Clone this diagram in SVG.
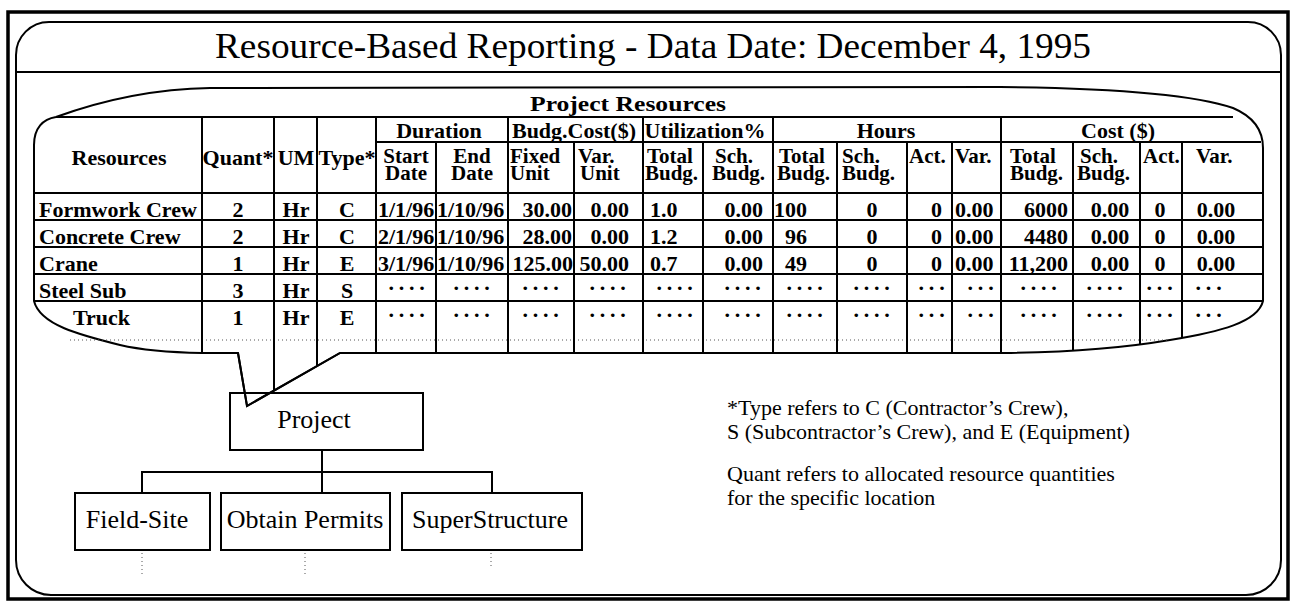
<svg xmlns="http://www.w3.org/2000/svg" width="1292" height="605" viewBox="0 0 1292 605">
<style>
.t{font-family:"Liberation Serif","Times New Roman",serif;fill:#000}
.b{font-weight:bold;font-size:22px}
.s{font-weight:bold;font-size:21px}
.c{text-anchor:middle}
.r{text-anchor:end}
.ln{stroke:#000;stroke-width:2;fill:none}
.dl{stroke:#555;stroke-width:1;stroke-dasharray:1 3;fill:none}
.n{font-size:26px}
.lg{font-size:22px}
.dots{letter-spacing:4.8px}
</style>
<rect x="0" y="0" width="1292" height="605" fill="#fff"/>
<g id="frame">
<rect x="8" y="12" width="1280" height="587" fill="none" stroke="#000" stroke-width="3.5"/>
<path class="ln" d="M16,55 A33,33 0 0 1 49,22 L1248,22 A33,33 0 0 1 1281,55 L1281,560 A35,35 0 0 1 1246,595 L51,595 A35,35 0 0 1 16,560 Z"/>
<line class="ln" x1="16" y1="72" x2="1281" y2="72"/>
</g>
<g id="title">
<text class="t c" x="653" y="58" font-size="36" textLength="876" lengthAdjust="spacingAndGlyphs">Resource-Based Reporting - Data Date: December 4, 1995</text>
</g>
<g id="resource-table">
<path class="ln" d="M34,301 L34,145 C34,128 43,119 56,117 C100,101 150,89 210,88 L1000,87 C1100,88 1190,93 1233,108 C1252,116 1263,128 1263,148 L1263,301 C1258,322 1220,332 1170,340 Q1100,352 1003,353 L340,353 L247,406 L238,353 L202,353 Q150,352 120,345 C80,335 40,325 34,301 Z"/>
<line class="ln" x1="56" y1="117" x2="1233" y2="117"/>
<line class="ln" x1="376" y1="142" x2="1261" y2="142"/>
<line class="ln" x1="34" y1="193" x2="1263" y2="193"/>
<line class="ln" x1="34" y1="220" x2="1263" y2="220"/>
<line class="ln" x1="34" y1="247" x2="1263" y2="247"/>
<line class="ln" x1="34" y1="274" x2="1263" y2="274"/>
<line class="ln" x1="34" y1="301" x2="1263" y2="301"/>
<line class="dl" x1="70" y1="340" x2="1170" y2="340"/>
<line class="ln" x1="202" y1="117" x2="202" y2="353"/>
<line class="ln" x1="274" y1="117" x2="274" y2="391"/>
<line class="ln" x1="317" y1="117" x2="317" y2="366"/>
<line class="ln" x1="376" y1="117" x2="376" y2="353"/>
<line class="ln" x1="436" y1="142" x2="436" y2="353"/>
<line class="ln" x1="508" y1="117" x2="508" y2="353"/>
<line class="ln" x1="574" y1="142" x2="574" y2="353"/>
<line class="ln" x1="643" y1="117" x2="643" y2="353"/>
<line class="ln" x1="703" y1="142" x2="703" y2="353"/>
<line class="ln" x1="773" y1="117" x2="773" y2="353"/>
<line class="ln" x1="837" y1="142" x2="837" y2="353"/>
<line class="ln" x1="907" y1="142" x2="907" y2="353"/>
<line class="ln" x1="952" y1="142" x2="952" y2="353"/>
<line class="ln" x1="1001" y1="117" x2="1001" y2="353"/>
<line class="ln" x1="1073" y1="142" x2="1073" y2="351"/>
<line class="ln" x1="1140" y1="142" x2="1140" y2="345"/>
<line class="ln" x1="1182" y1="142" x2="1182" y2="338"/>
<text class="t b c" x="628" y="111" textLength="196" lengthAdjust="spacingAndGlyphs">Project Resources</text>
<text class="t b c" x="439" y="138">Duration</text>
<text class="t b c" x="574" y="138">Budg.Cost($)</text>
<text class="t b c" x="705" y="138">Utilization%</text>
<text class="t b c" x="886" y="138">Hours</text>
<text class="t b c" x="1118" y="138">Cost ($)</text>
<text class="t b c" x="119" y="165">Resources</text>
<text class="t b c" x="238" y="165">Quant*</text>
<text class="t b c" x="296" y="165">UM</text>
<text class="t b c" x="347" y="165">Type*</text>
<g class="t s">
<text class="c" x="406" y="163">Start</text><text class="c" x="406" y="180">Date</text>
<text class="c" x="472" y="163">End</text><text class="c" x="472" y="180">Date</text>
<text x="510" y="163">Fixed</text><text x="510" y="180">Unit</text>
<text x="578" y="163">Var.</text><text x="580" y="180">Unit</text>
<text x="647" y="163">Total</text><text x="645" y="180">Budg.</text>
<text x="715" y="163">Sch.</text><text x="712" y="180">Budg.</text>
<text x="779" y="163">Total</text><text x="777" y="180">Budg.</text>
<text x="842" y="163">Sch.</text><text x="842" y="180">Budg.</text>
<text x="909" y="163">Act.</text>
<text x="955" y="163">Var.</text>
<text x="1010" y="163">Total</text><text x="1010" y="180">Budg.</text>
<text x="1080" y="163">Sch.</text><text x="1077" y="180">Budg.</text>
<text x="1143" y="163">Act.</text>
<text x="1196" y="163">Var.</text>
</g>
<g class="t b">
<text x="39" y="217">Formwork Crew</text>
<text x="39" y="244">Concrete Crew</text>
<text x="39" y="271">Crane</text>
<text x="39" y="298">Steel Sub</text>
<text x="73" y="325">Truck</text>
<text class="c" x="238" y="217">2</text><text class="c" x="238" y="244">2</text><text class="c" x="238" y="271">1</text><text class="c" x="238" y="298">3</text><text class="c" x="238" y="325">1</text>
<text class="c" x="296" y="217">Hr</text><text class="c" x="296" y="244">Hr</text><text class="c" x="296" y="271">Hr</text><text class="c" x="296" y="298">Hr</text><text class="c" x="296" y="325">Hr</text>
<text class="c" x="347" y="217">C</text><text class="c" x="347" y="244">C</text><text class="c" x="347" y="271">E</text><text class="c" x="347" y="298">S</text><text class="c" x="347" y="325">E</text>
<text x="378" y="217">1/1/96</text><text x="378" y="244">2/1/96</text><text x="378" y="271">3/1/96</text>
<text x="437" y="217">1/10/96</text><text x="437" y="244">1/10/96</text><text x="437" y="271">1/10/96</text>
<text class="r" x="572" y="217">30.00</text><text class="r" x="572" y="244">28.00</text><text class="r" x="573" y="271">125.00</text>
<text class="r" x="629" y="217">0.00</text><text class="r" x="629" y="244">0.00</text><text class="r" x="629" y="271">50.00</text>
<text x="650" y="217">1.0</text><text x="650" y="244">1.2</text><text x="650" y="271">0.7</text>
<text class="r" x="763" y="217">0.00</text><text class="r" x="763" y="244">0.00</text><text class="r" x="763" y="271">0.00</text>
<text class="r" x="807" y="217">100</text><text class="r" x="807" y="244">96</text><text class="r" x="807" y="271">49</text>
<text class="c" x="872" y="217">0</text><text class="c" x="872" y="244">0</text><text class="c" x="872" y="271">0</text>
<text class="r" x="942" y="217">0</text><text class="r" x="942" y="244">0</text><text class="r" x="942" y="271">0</text>
<text x="955" y="217">0.00</text><text x="955" y="244">0.00</text><text x="955" y="271">0.00</text>
<text class="r" x="1068" y="217">6000</text><text class="r" x="1068" y="244">4480</text><text class="r" x="1068" y="271">11,200</text>
<text class="c" x="1110" y="217">0.00</text><text class="c" x="1110" y="244">0.00</text><text class="c" x="1110" y="271">0.00</text>
<text class="c" x="1160" y="217">0</text><text class="c" x="1160" y="244">0</text><text class="c" x="1160" y="271">0</text>
<text class="c" x="1216" y="217">0.00</text><text class="c" x="1216" y="244">0.00</text><text class="c" x="1216" y="271">0.00</text>
</g>
<g class="t b c dots">
<text x="409" y="290">....</text><text x="474" y="290">....</text><text x="543" y="290">....</text><text x="610" y="290">....</text><text x="677" y="290">....</text><text x="745" y="290">....</text><text x="807" y="290">....</text><text x="874" y="290">....</text><text x="934" y="290">...</text><text x="983" y="290">...</text><text x="1041" y="290">....</text><text x="1107" y="290">....</text><text x="1162" y="290">...</text><text x="1211" y="290">...</text>
<text x="409" y="317">....</text><text x="474" y="317">....</text><text x="543" y="317">....</text><text x="610" y="317">....</text><text x="677" y="317">....</text><text x="745" y="317">....</text><text x="807" y="317">....</text><text x="874" y="317">....</text><text x="934" y="317">...</text><text x="983" y="317">...</text><text x="1041" y="317">....</text><text x="1107" y="317">....</text><text x="1162" y="317">...</text><text x="1211" y="317">...</text>
</g>
</g>
<g id="project">
<rect class="ln" x="230" y="393" width="193" height="57" fill="#fff"/>
<text class="t n c" x="314" y="428">Project</text>
</g>
<g id="callout-tail">
<path class="ln" d="M238,353 L247,406 L340,353"/>
</g>
<g id="field-site">
<rect class="ln" x="75" y="493" width="135" height="57"/>
<text class="t n c" x="137" y="528">Field-Site</text>
</g>
<g id="obtain-permits">
<rect class="ln" x="221" y="493" width="169" height="57"/>
<text class="t n c" x="305" y="528">Obtain Permits</text>
</g>
<g id="superstructure">
<rect class="ln" x="402" y="493" width="180" height="57"/>
<text class="t n c" x="490" y="528">SuperStructure</text>
</g>
<g id="connectors">
<path class="ln" d="M322,450 L322,493 M142,493 L142,472 L492,472 L492,493"/>
<line class="dl" x1="142" y1="553" x2="142" y2="576"/>
<line class="dl" x1="305" y1="553" x2="305" y2="574"/>
<line class="dl" x1="491" y1="553" x2="491" y2="566"/>
</g>
<g id="notes" class="t lg">
<text x="727" y="415">*Type refers to C (Contractor’s Crew),</text>
<text x="727" y="439">S (Subcontractor’s Crew), and E (Equipment)</text>
<text x="727" y="481">Quant refers to allocated resource quantities</text>
<text x="727" y="505">for the specific location</text>
</g>
</svg>
